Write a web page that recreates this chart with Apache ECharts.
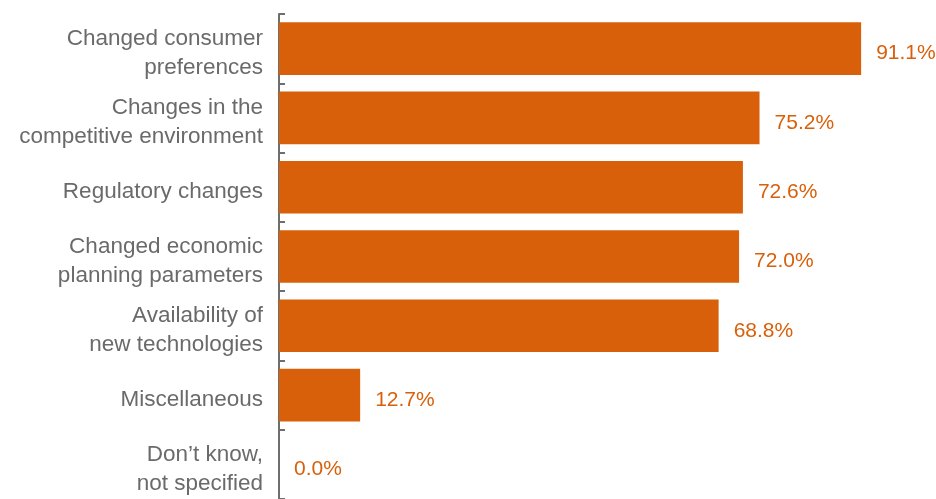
<!DOCTYPE html>
<html><head><meta charset="utf-8">
<script src="https://cdn.jsdelivr.net/npm/echarts@6/dist/echarts.min.js"></script>
<style>html,body{margin:0;padding:0;background:#fff}#c{width:936px;height:499px}</style>
</head><body><div id="c"></div>
<script>
const categories = [
  "Changed consumer\npreferences",
  "Changes in the\ncompetitive environment",
  "Regulatory changes",
  "Changed economic\nplanning parameters",
  "Availability of\nnew technologies",
  "Miscellaneous",
  "Don\u2019t know,\nnot specified"
];
const values = [91.1, 75.2, 72.6, 72.0, 68.8, 12.7, 0.0];

const chart = echarts.init(document.getElementById('c'), null, {renderer: 'canvas'});
chart.setOption({
  animation: false,
  grid: {left: 279, right: 18, top: 14, height: 490, containLabel: false},
  xAxis: {type: 'value', min: 0, max: 100, show: false},
  yAxis: {
    type: 'category', data: categories, inverse: true,
    axisLine: {show: true, lineStyle: {color: '#6e6e6e', width: 2}},
    axisTick: {show: true, inside: true, length: 6, lineStyle: {color: '#6e6e6e', width: 2}},
    axisLabel: {
      color: '#6a6a6a', fontSize: 22.5, fontFamily: 'Liberation Sans, Arial, sans-serif',
      lineHeight: 29, margin: 16, align: 'right',
      formatter: v => '{s| }\n' + v.split('\n').map(t => '{a|' + t + '}').join('\n'),
      rich: {
        s: {fontSize: 1, lineHeight: 9},
        a: {color: '#6a6a6a', fontSize: 22.5, fontFamily: 'Liberation Sans, Arial, sans-serif', lineHeight: 29}
      }
    },
    splitLine: {show: false}
  },
  series: [{
    type: 'bar', data: values, barCategoryGap: '24%',
    itemStyle: {color: '#D9600A'},
    label: {show: true, position: 'right', distance: 15, color: '#D9600A', fontSize: 21,
      fontFamily: 'Liberation Sans, Arial, sans-serif', offset: [0, 5],
      formatter: p => p.value.toFixed(1) + '%'}
  }]
});
</script></body></html>
